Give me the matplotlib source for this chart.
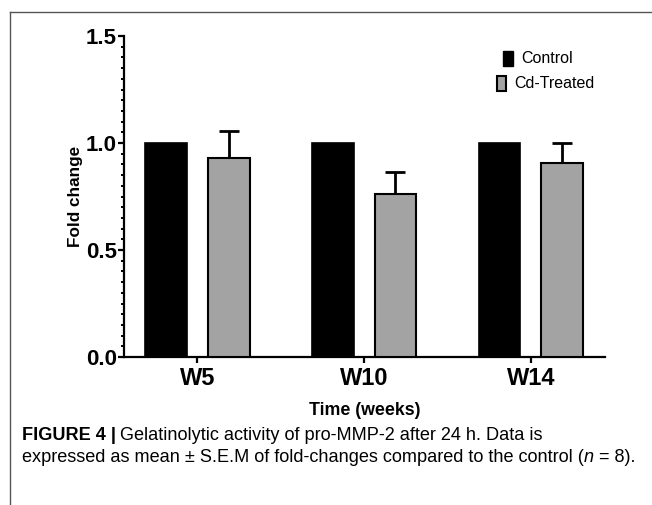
import matplotlib
matplotlib.use("Agg")
import matplotlib.pyplot as plt
from matplotlib.patches import Rectangle
from matplotlib.lines import Line2D
from matplotlib.ticker import MultipleLocator
import numpy as np

categories = ["W5", "W10", "W14"]
control = [1.0, 1.0, 1.0]
treated = [0.93, 0.76, 0.905]
treated_sem = [0.125, 0.105, 0.095]
series_names = ["Control", "Cd-Treated"]
yticks = [0.0, 0.5, 1.0, 1.5]

plt.rcParams['font.family'] = ['Liberation Sans', 'DejaVu Sans']

fig = plt.figure(figsize=(6.52, 5.05), dpi=100)
ax = fig.add_axes([124/652, 1-357/505, (605-124)/652, (357-36)/505])

x = np.arange(len(categories))
w = 0.25
off = 0.188
ax.bar(x - off, control, width=w, color='black', edgecolor='black', linewidth=1.2, zorder=3)
ax.bar(x + off, treated, width=w, color='#a3a3a3', edgecolor='black', linewidth=1.5, zorder=3)
ax.errorbar(x + off, treated, yerr=[np.zeros(len(treated)), treated_sem], fmt='none',
            ecolor='black', elinewidth=2, capsize=7.5, capthick=2, zorder=2)

ax.set_xlim(-0.44, 2.445)
ax.set_ylim(0, 1.5)
ax.set_yticks(yticks)
ax.set_yticklabels([f"{v:.1f}" for v in yticks])
ax.yaxis.set_minor_locator(MultipleLocator(0.05))
ax.set_xticks(x)
ax.set_xticklabels(categories)
for s in ['top', 'right']:
    ax.spines[s].set_visible(False)
for s in ['left', 'bottom']:
    ax.spines[s].set_linewidth(1.6)
ax.tick_params(axis='y', which='major', length=4.5, width=1.6, pad=0.5, labelsize=16)
ax.tick_params(axis='y', which='minor', length=2.5, width=1.4)
ax.tick_params(axis='x', which='major', length=4.5, width=1.6, pad=3, labelsize=17)
for lab in ax.get_xticklabels() + ax.get_yticklabels():
    lab.set_fontweight('bold')
ax.set_ylabel("Fold change", fontsize=12.3, fontweight='bold', labelpad=2)
ax.set_xlabel("Time (weeks)", fontsize=12.8, fontweight='bold', labelpad=8.5)

# legend (manual)
ax.add_patch(Rectangle((503/652, 1-66/505), 10/652, 15/505, transform=fig.transFigure,
                       facecolor='black', edgecolor='black', linewidth=1, clip_on=False))
ax.add_patch(Rectangle((496.5/652, 1-91/505), 9.5/652, 15/505, transform=fig.transFigure,
                       facecolor='#a3a3a3', edgecolor='black', linewidth=1.5, clip_on=False))
fig.text(521/652, 1-58.5/505, series_names[0], fontsize=11.5, va='center', ha='left')
fig.text(514/652, 1-83.5/505, series_names[1], fontsize=11.5, va='center', ha='left')

# frame lines
fig.add_artist(Line2D([9.5/652, 1], [1-12/505, 1-12/505], transform=fig.transFigure, color='#555555', linewidth=1))
fig.add_artist(Line2D([9.5/652, 9.5/652], [0, 1-12/505], transform=fig.transFigure, color='#555555', linewidth=1))

# caption
cap_font = ['Liberation Sans', 'DejaVu Sans']
cfs = 13.1
fig.canvas.draw()
r = fig.canvas.get_renderer()
t1 = fig.text(22/652, 1-436/505, "FIGURE 4 |", fontsize=cfs, fontweight='bold', va='center', ha='left', family=cap_font)
bb = t1.get_window_extent(renderer=r)
fig.text((bb.x1 + 4)/652, 1-436/505, "Gelatinolytic activity of pro-MMP-2 after 24 h. Data is",
         fontsize=cfs, va='center', ha='left', family=cap_font)
t2 = fig.text(22/652, 1-458/505, "expressed as mean \u00b1 S.E.M of fold-changes compared to the control (",
              fontsize=cfs, va='center', ha='left', family=cap_font)
bb2 = t2.get_window_extent(renderer=r)
t3 = fig.text(bb2.x1/652, 1-458/505, "n", fontsize=cfs, style='italic', va='center', ha='left', family=cap_font)
bb3 = t3.get_window_extent(renderer=r)
fig.text(bb3.x1/652, 1-458/505, " = 8).", fontsize=cfs, va='center', ha='left', family=cap_font)

fig.savefig("out.png", dpi=100)
